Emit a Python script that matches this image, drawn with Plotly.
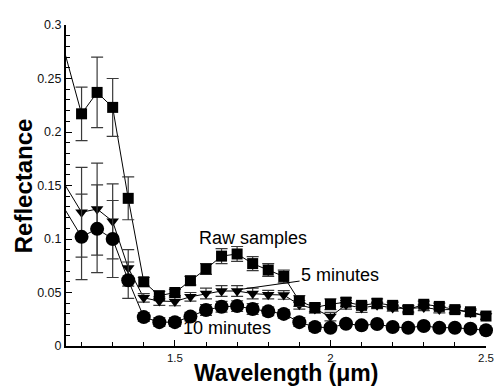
import plotly.graph_objects as go

# ---- data ----
wavelength = [1.10, 1.20, 1.25, 1.30, 1.35, 1.40, 1.45, 1.50, 1.55, 1.60,
              1.65, 1.70, 1.75, 1.80, 1.85, 1.90, 1.95, 2.00, 2.05, 2.10,
              2.15, 2.20, 2.25, 2.30, 2.35, 2.40, 2.45, 2.50]

raw_samples = [0.323, 0.217, 0.237, 0.223, 0.138, 0.060, 0.047, 0.050, 0.061, 0.072,
               0.084, 0.086, 0.077, 0.071, 0.065, 0.042, 0.036, 0.039, 0.041, 0.038,
               0.040, 0.038, 0.034, 0.039, 0.037, 0.034, 0.032, 0.028]
raw_err = [0.025, 0.033, 0.027, 0.020, 0.004, 0.004, 0.003, 0.004, 0.005,
           0.007, 0.007, 0.0066, 0.006, 0.006, 0.005, 0.004, 0.005, 0.004, 0.003,
           0.004, 0.003, 0.003, 0.003, 0.003, 0.003, 0.003, 0.003]

five_minutes = [0.173, 0.125, 0.128, 0.1165, 0.073, 0.045, 0.042, 0.0416, 0.046, 0.049,
                0.0514, 0.0514, 0.049, 0.048, 0.0477, 0.0385, 0.0346, 0.0275, 0.0385, 0.0355,
                0.038, 0.0355, 0.035, 0.036, 0.034, 0.034, 0.031, 0.028]
five_err = [0.042, 0.043, 0.035, 0.017, 0.004, 0.004, 0.004, 0.004, 0.005,
            0.005, 0.005, 0.005, 0.004, 0.004, 0.004, 0.004, 0.004, 0.004, 0.004,
            0.003, 0.003, 0.003, 0.003, 0.003, 0.003, 0.003, 0.003]

ten_minutes = [0.150, 0.102, 0.1095, 0.100, 0.0615, 0.027, 0.0223, 0.0223, 0.0275, 0.0336,
               0.0367, 0.0373, 0.0346, 0.0324, 0.030, 0.0223, 0.0177, 0.0171, 0.0208, 0.0193,
               0.0205, 0.0177, 0.0171, 0.0187, 0.0171, 0.0171, 0.0162, 0.0147]
ten_err = [0.040, 0.041, 0.036, 0.017, 0.004, 0.004, 0.004, 0.004, 0.005,
           0.005, 0.005, 0.005, 0.004, 0.004, 0.004, 0.004, 0.003, 0.003, 0.003,
           0.003, 0.003, 0.003, 0.003, 0.003, 0.003, 0.003, 0.003]

y_ticks = [0, 0.05, 0.1, 0.15, 0.2, 0.25, 0.3]
y_ticklabels = ["0", "0.05", "0.1", "0.15", "0.2", "0.25", "0.3"]
x_ticks = [1.5, 2.0, 2.5]
x_ticklabels = ["1.5", "2", "2.5"]

FONT = "Liberation Sans, Arial, Helvetica, sans-serif"

fig = go.Figure()

series = [
    (five_minutes, five_err, "triangle-down", 11),
    (ten_minutes, ten_err, "circle", 14),
    (raw_samples, raw_err, "square", 11),
]

# lines (clipped to the plot area, include the off-range first point)
for vals, err, sym, size in series:
    fig.add_trace(go.Scatter(
        x=wavelength, y=vals, mode="lines",
        line=dict(color="black", width=1),
        showlegend=False, hoverinfo="skip"))

# markers with error bars (only in-range points)
for vals, err, sym, size in series:
    fig.add_trace(go.Scatter(
        x=wavelength[1:], y=vals[1:], mode="markers",
        marker=dict(symbol=sym, size=size, color="black", line=dict(width=0)),
        error_y=dict(type="data", array=err, visible=True,
                     color="#3a3a3a", thickness=1.2, width=6),
        cliponaxis=False, showlegend=False))

fig.add_annotation(x=1.75, y=0.101, xref="x", yref="y", text="Raw samples",
                   showarrow=False, font=dict(family=FONT, size=18, color="black"))
fig.add_annotation(x=1.70, y=0.0525, xref="x", yref="y",
                   ax=2.031, ay=0.066, axref="x", ayref="y",
                   text="5 minutes", showarrow=True, arrowhead=0, arrowwidth=1,
                   arrowcolor="black", standoff=0,
                   font=dict(family=FONT, size=18, color="black"))
fig.add_annotation(x=1.669, y=0.0165, xref="x", yref="y", text="10 minutes",
                   showarrow=False, font=dict(family=FONT, size=18, color="black"))

# axis titles
fig.add_annotation(x=0.523, y=-0.0856, xref="paper", yref="paper",
                   text="<b>Wavelength (μm)</b>", showarrow=False,
                   xanchor="center", yanchor="middle",
                   font=dict(family=FONT, size=23, color="black"))
fig.add_annotation(x=-0.1005, y=0.5, xref="paper", yref="paper",
                   text="<b>Reflectance</b>", showarrow=False, textangle=-90,
                   xanchor="center", yanchor="middle",
                   font=dict(family=FONT, size=24, color="black"))

fig.update_layout(
    width=496, height=382,
    margin=dict(l=58, r=10, t=11, b=44),
    paper_bgcolor="white", plot_bgcolor="white",
    font=dict(family=FONT, color="black"),
    xaxis=dict(range=[1.15, 2.5], tickvals=x_ticks, ticktext=x_ticklabels,
               ticks="inside", ticklen=6, tickwidth=1, tickcolor="black",
               minor=dict(dtick=0.1, tick0=1.2, ticks="inside", ticklen=4,
                          tickwidth=1, tickcolor="black"),
               showline=True, linecolor="black", linewidth=2,
               showgrid=False, zeroline=False,
               tickfont=dict(family=FONT, size=11.5, color="#111")),
    yaxis=dict(range=[0, 0.3], tickvals=y_ticks, ticktext=y_ticklabels,
               ticks="inside", ticklen=6, tickwidth=1, tickcolor="black",
               minor=dict(dtick=0.01, tick0=0, ticks="inside", ticklen=4,
                          tickwidth=1, tickcolor="black"),
               showline=True, linecolor="black", linewidth=2,
               showgrid=False, zeroline=False,
               tickfont=dict(family=FONT, size=12.5, color="#111")),
)

fig.write_html("out.html")
